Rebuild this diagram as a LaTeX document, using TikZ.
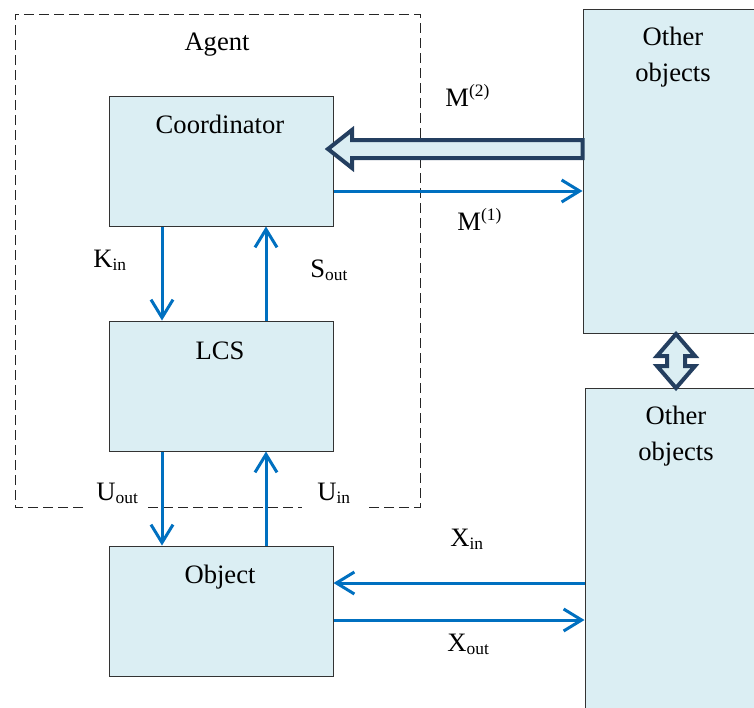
\documentclass[tikz,border=0pt]{standalone}
\usepackage{fontspec}
\setmainfont{Liberation Serif}
\usetikzlibrary{arrows.meta}
\definecolor{boxfill}{RGB}{219,238,243}
\definecolor{flowblue}{RGB}{0,112,192}
\definecolor{navy}{RGB}{36,63,96}
\newcommand\lowtxt[1]{\raisebox{-1.6pt}{\fontsize{8.7pt}{9pt}\selectfont #1}}
\newcommand\hightxt[1]{\raisebox{5pt}{\fontsize{8.7pt}{9pt}\selectfont #1}}
\tikzset{
  block/.style={draw=black!80, line width=0.5pt, fill=boxfill, inner sep=0pt},
  title/.style={anchor=base, inner sep=0pt, font=\fontsize{13.3pt}{18pt}\selectfont, align=center},
  lbl/.style={anchor=base west, inner sep=0pt, font=\fontsize{13.3pt}{16pt}\selectfont},
  flow/.style={draw=flowblue, line width=1.5pt, -{Straight Barb[length=9pt,width=11pt,line width=1.5pt]}},
  bigarrow/.style={draw=navy, line width=2pt, fill=boxfill, line join=miter},
  agentframe/.style={draw=black!85, line width=0.5pt, dash pattern=on 5pt off 2.5pt}
}
\begin{document}
\begin{tikzpicture}[x=0.5pt, y=-0.5pt]
  \useasboundingbox (0,0) rectangle (754,707);
  \clip (0,0) rectangle (754,707);

  % agent frame (open where the U labels sit)
  \draw[agentframe] (83,507) -- (15,507) -- (15,14) -- (420,14) -- (420,507) -- (367,507);
  \draw[agentframe] (148,507) -- (302,507);
  \node[title] (agent) at (217,50) {Agent};

  % blocks
  \node[block, minimum width=112pt, minimum height=65pt] (coord) at (221,161) {};
  \node[block, minimum width=112pt, minimum height=65pt] (lcs) at (221,386) {};
  \node[block, minimum width=112pt, minimum height=65pt] (obj) at (221,611) {};
  \node[block, minimum width=98.5pt, minimum height=162pt] (oth1) at (681.5,171) {};
  \node[block, minimum width=97.5pt, minimum height=171pt] (oth2) at (682.5,559) {};

  \node[title] (tcoord) at (220,133) {Coordinator};
  \node[title] (tlcs) at (220,359) {LCS};
  \node[title] (tobj) at (220,583) {Object};
  \node[title, anchor=north] (toth1) at (673,27) {Other\\objects};
  \node[title, anchor=north] (toth2) at (676,406) {Other\\objects};

  % connector columns and rows
  \coordinate (cl) at (162,0);
  \coordinate (cr) at (266,0);
  \coordinate (rm) at (0,191);
  \coordinate (rxin) at (0,583);
  \coordinate (rxout) at (0,620);

  \draw[flow] (coord.south -| cl) -- (lcs.north -| cl);
  \draw[flow] (lcs.north -| cr) -- (coord.south -| cr);
  \draw[flow] (lcs.south -| cl) -- (obj.north -| cl);
  \draw[flow] (obj.north -| cr) -- (lcs.south -| cr);
  \draw[flow] (coord.east |- rm) -- (oth1.west |- rm);
  \draw[flow] (oth2.west |- rxin) -- (obj.east |- rxin);
  \draw[flow] (obj.east |- rxout) -- (oth2.west |- rxout);

  % hollow block arrow from the upper objects to the coordinator
  \draw[bigarrow] (oth1.west |- 0,140) -- (352,140) -- (352,130) -- (328,149)
        -- (352,168) -- (352,158) -- (oth1.west |- 0,158) -- cycle;

  % two-way block arrow between the object groups
  \draw[bigarrow] (676,334) -- (695,356) -- (685,356) -- (685,366) -- (695,366)
        -- (676,388) -- (657,366) -- (667,366) -- (667,356) -- (657,356) -- cycle;

  % labels
  \node[lbl] (lm2) at (445,106) {M\hightxt{(2)}};
  \node[lbl] (lm1) at (457,230) {M\hightxt{(1)}};
  \node[lbl] (lk) at (93,267) {K\lowtxt{in}};
  \node[lbl] (ls) at (310,277) {S\lowtxt{out}};
  \node[lbl] (luo) at (96,500) {U\lowtxt{out}};
  \node[lbl] (lui) at (317,500) {U\lowtxt{in}};
  \node[lbl] (lxi) at (450,546) {X\lowtxt{in}};
  \node[lbl] (lxo) at (447,651) {X\lowtxt{out}};
\end{tikzpicture}
\end{document}
